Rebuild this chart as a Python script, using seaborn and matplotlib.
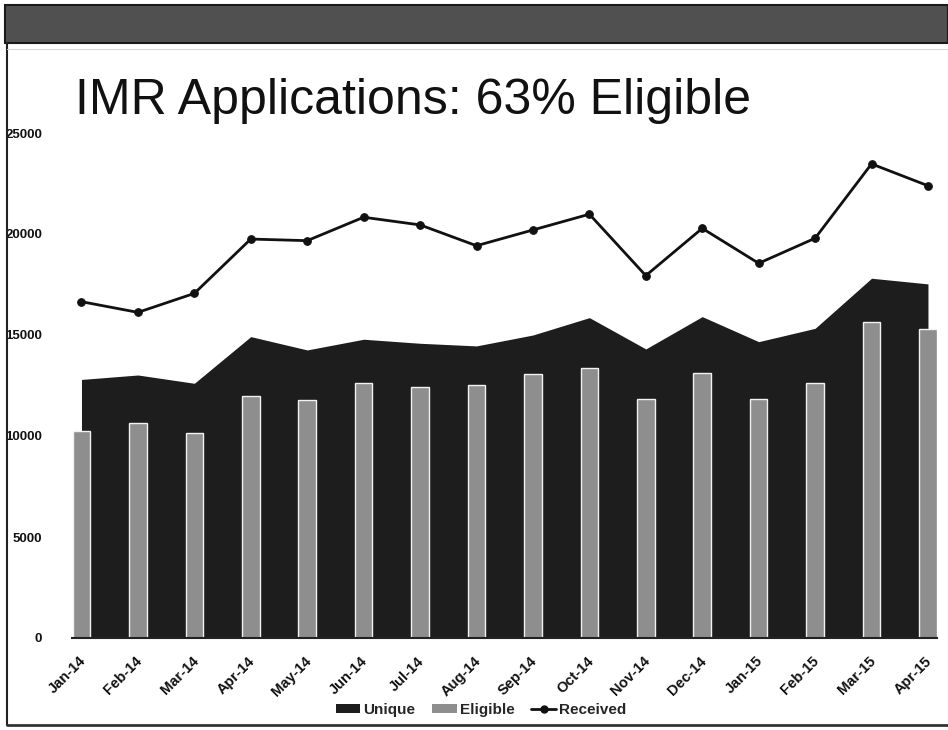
import numpy as np
import pandas as pd
import matplotlib
matplotlib.use("Agg")
import matplotlib.pyplot as plt
import matplotlib.transforms as mtransforms
from matplotlib.patches import Patch, Rectangle
from matplotlib.lines import Line2D
import seaborn as sns

# Monthly IMR application counts
months = ["Jan-14", "Feb-14", "Mar-14", "Apr-14", "May-14", "Jun-14", "Jul-14", "Aug-14",
          "Sep-14", "Oct-14", "Nov-14", "Dec-14", "Jan-15", "Feb-15", "Mar-15", "Apr-15"]
unique = [12800, 13020, 12610, 14920, 14260, 14790, 14590, 14460,
          15000, 15860, 14310, 15910, 14670, 15330, 17810, 17530]
eligible = [10250, 10630, 10130, 12000, 11780, 12610, 12410, 12530,
            13050, 13380, 11820, 13140, 11820, 12610, 15660, 15300]
received = [16650, 16120, 17060, 19750, 19670, 20830, 20450, 19420,
            20200, 20980, 17940, 20280, 18550, 19790, 23470, 22390]
y_ticks = [0, 5000, 10000, 15000, 20000, 25000]

sns.set_theme(style="white")
plt.rcParams["font.family"] = ["Liberation Sans", "DejaVu Sans"]

UNIQUE_C = "#1d1d1d"
ELIGIBLE_C = "#8e8e8e"
LINE_C = "#111111"

df = pd.DataFrame({"month": months, "unique": unique,
                   "eligible": eligible, "received": received})
pos = np.arange(len(months))
df["pos"] = pos

W, H = 948, 730
fig = plt.figure(figsize=(W / 100, H / 100), dpi=100)
fig.patch.set_facecolor("white")

# slide header band and frame
fig.patches.append(Rectangle((5 / W, (H - 43) / H), 1 - 5 / W, 38 / H,
                             transform=fig.transFigure, facecolor="#505050",
                             edgecolor="#1a1a1a", linewidth=1.5, zorder=0))
fig.add_artist(Line2D([7 / W, 7 / W], [(H - 725) / H, (H - 43) / H],
                      transform=fig.transFigure, color="#222222", linewidth=1.5))
fig.add_artist(Line2D([7 / W, 1], [(H - 725) / H, (H - 725) / H],
                      transform=fig.transFigure, color="#333333", linewidth=2))
fig.add_artist(Line2D([7 / W, 1], [(H - 49) / H, (H - 49) / H],
                      transform=fig.transFigure, color="#d8d8d8", linewidth=0.8))

fig.text(75 / W, (H - 114) / H, "IMR Applications: 63% Eligible",
         fontsize=36, color="#111111", ha="left", va="baseline")

ax = fig.add_axes([72 / W, (H - 638) / H, 865 / W, 505 / H])
ax.set_facecolor("none")

# Unique: filled area from first to last month
ax.fill_between(df["pos"], 0, df["unique"], color=UNIQUE_C, linewidth=0, zorder=1)

# Eligible: narrow bars in front of the area
sns.barplot(data=df, x="pos", y="eligible", native_scale=True, width=0.31,
            color=ELIGIBLE_C, saturation=1, edgecolor="#f2f2f2", linewidth=1.0,
            ax=ax, zorder=2)

# Received: line with round markers
sns.lineplot(data=df, x="pos", y="received", color=LINE_C, linewidth=2,
             marker="o", markersize=5.5, markeredgecolor=LINE_C, sort=False,
             ax=ax, zorder=3)

ax.set_xlim(-0.168, 15.16)
ax.set_ylim(0, 25000)
ax.set_xlabel("")
ax.set_ylabel("")

ax.set_yticks(y_ticks)
ax.set_yticklabels([str(v) for v in y_ticks], fontsize=9.5, fontweight="bold", color="#111111")
ax.tick_params(axis="y", length=0, pad=21.5)

ax.set_xticks(pos)
ax.set_xticklabels(months, rotation=45, ha="right", va="center", rotation_mode="anchor",
                   fontsize=10.5, fontweight="bold", color="#111111")
ax.tick_params(axis="x", length=0, pad=15)
shift = mtransforms.ScaledTranslation(2 / 100, 0, fig.dpi_scale_trans)
for lbl in ax.get_xticklabels():
    lbl.set_transform(lbl.get_transform() + shift)

for side in ["left", "right", "top"]:
    ax.spines[side].set_visible(False)
ax.spines["bottom"].set_color("#222222")
ax.spines["bottom"].set_linewidth(1.5)
ax.grid(False)

handles = [Patch(facecolor=UNIQUE_C, edgecolor="none"),
           Patch(facecolor=ELIGIBLE_C, edgecolor="none"),
           Line2D([], [], color=LINE_C, linewidth=2, marker="o", markersize=5)]
fig.legend(handles, ["Unique", "Eligible", "Received"], loc="center",
           bbox_to_anchor=(481 / W, (H - 710) / H), ncol=3, frameon=False,
           prop={"weight": "bold", "size": 11}, handlelength=1.6, handleheight=0.5,
           handletextpad=0.2, columnspacing=1.1)

fig.savefig("out.png", dpi=100, facecolor="white")
